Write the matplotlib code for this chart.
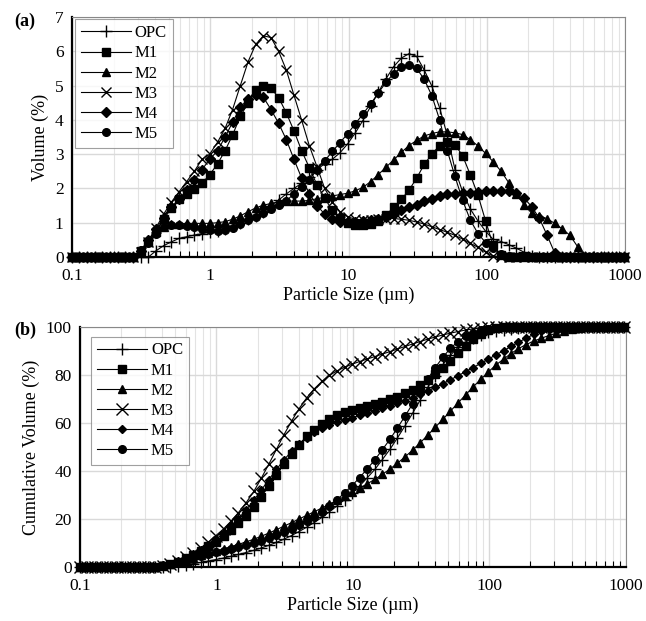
import numpy as np
import matplotlib
matplotlib.use("Agg")
import matplotlib.pyplot as plt
from matplotlib.ticker import LogLocator, FixedLocator, NullFormatter

plt.rcParams["font.family"] = ["Liberation Serif", "DejaVu Serif"]

# particle size classes (um)
sizes = [0.0995, 0.113, 0.128, 0.146, 0.166, 0.188, 0.214, 0.243, 0.276, 0.314,
         0.357, 0.405, 0.460, 0.523, 0.594, 0.675, 0.767, 0.872, 0.991, 1.13,
         1.28, 1.45, 1.65, 1.88, 2.13, 2.42, 2.75, 3.12, 3.55, 4.03,
         4.58, 5.21, 5.92, 6.72, 7.64, 8.68, 9.86, 11.2, 12.7, 14.5,
         16.4, 18.7, 21.2, 24.1, 27.4, 31.1, 35.3, 40.1, 45.6, 51.8,
         58.9, 66.9, 76.0, 86.4, 98.1, 111, 127, 144, 163, 186,
         211, 240, 272, 310, 352, 400, 454, 516, 586, 666,
         756, 859, 976]

# volume (%) per size class
opc = [0, 0, 0, 0, 0, 0, 0, 0, 0, 0,
       0.0, 0.18, 0.33, 0.44, 0.54, 0.59, 0.64, 0.68, 0.72, 0.77,
       0.83, 0.9, 1.0, 1.1, 1.2, 1.32, 1.5, 1.66, 1.84, 2.0,
       2.15, 2.33, 2.55, 2.72, 2.85, 3.04, 3.3, 3.62, 3.98, 4.4,
       4.8, 5.2, 5.55, 5.8, 5.93, 5.85, 5.45, 4.98, 4.35, 3.55,
       2.55, 1.9, 1.4, 1.05, 0.75, 0.52, 0.45, 0.36, 0.26, 0.14,
       0.03, 0, 0, 0, 0, 0, 0, 0, 0, 0,
       0, 0, 0]
m1 = [0, 0, 0, 0, 0, 0, 0, 0, 0, 0.18,
      0.45, 0.72, 1.1, 1.42, 1.7, 1.85, 1.98, 2.15, 2.4, 2.72,
      3.1, 3.56, 4.1, 4.5, 4.88, 5.0, 4.92, 4.65, 4.2, 3.68,
      3.1, 2.6, 2.1, 1.72, 1.36, 1.13, 0.99, 0.93, 0.93, 0.96,
      1.06, 1.22, 1.45, 1.68, 1.95, 2.3, 2.7, 3.0, 3.25, 3.36,
      3.28, 2.95, 2.4, 1.8, 1.05, 0.35, 0.05, 0, 0, 0,
      0, 0, 0, 0, 0, 0, 0, 0, 0, 0,
      0, 0, 0]
m2 = [0, 0, 0, 0, 0, 0, 0, 0, 0, 0.18,
      0.48, 0.72, 0.88, 0.95, 0.97, 0.98, 0.98, 0.98, 0.98, 1.0,
      1.03, 1.1, 1.2, 1.32, 1.43, 1.51, 1.56, 1.6, 1.63, 1.63,
      1.63, 1.65, 1.7, 1.74, 1.78, 1.82, 1.86, 1.93, 2.03, 2.2,
      2.4, 2.62, 2.83, 3.05, 3.25, 3.4, 3.53, 3.6, 3.65, 3.65,
      3.62, 3.57, 3.42, 3.24, 3.02, 2.78, 2.5, 2.17, 1.85, 1.52,
      1.28, 1.2, 1.12, 0.98, 0.82, 0.63, 0.3, 0.02, 0, 0,
      0, 0, 0]
m3 = [0, 0, 0, 0, 0, 0, 0, 0, 0, 0.15,
      0.45, 0.85, 1.25, 1.6, 1.9, 2.2, 2.5, 2.85, 3.0, 3.35,
      3.75, 4.3, 5.0, 5.7, 6.2, 6.45, 6.4, 6.0, 5.45, 4.72,
      3.99, 3.24, 2.63, 2.0, 1.6, 1.32, 1.17, 1.1, 1.08, 1.08,
      1.1, 1.12, 1.12, 1.1, 1.07, 1.02, 0.96, 0.88, 0.8, 0.72,
      0.63, 0.52, 0.4, 0.28, 0.14, 0.03, 0, 0, 0, 0,
      0, 0, 0, 0, 0, 0, 0, 0, 0, 0,
      0, 0, 0]
m4 = [0, 0, 0, 0, 0, 0, 0, 0, 0, 0.18,
      0.5, 0.82, 1.15, 1.45, 1.68, 1.95, 2.25, 2.55, 2.85, 3.1,
      3.5, 3.93, 4.36, 4.62, 4.72, 4.66, 4.3, 3.9, 3.42, 2.85,
      2.3, 1.85, 1.5, 1.25, 1.1, 1.03, 1.02, 1.03, 1.05, 1.08,
      1.12, 1.18, 1.27, 1.37, 1.45, 1.53, 1.62, 1.7, 1.78, 1.83,
      1.85, 1.86, 1.88, 1.9, 1.92, 1.93, 1.93, 1.92, 1.86, 1.72,
      1.47, 1.13, 0.65, 0.12, 0, 0, 0, 0, 0, 0,
      0, 0, 0]
m5 = [0, 0, 0, 0, 0, 0, 0, 0, 0, 0.2,
      0.42, 0.67, 0.86, 0.92, 0.93, 0.9, 0.86, 0.81, 0.78, 0.77,
      0.8, 0.85, 0.96, 1.08, 1.16, 1.27, 1.39, 1.52, 1.63, 1.85,
      2.05, 2.25, 2.55, 2.8, 3.08, 3.33, 3.6, 3.88, 4.17, 4.47,
      4.78, 5.1, 5.35, 5.53, 5.6, 5.5, 5.18, 4.7, 4.0, 3.1,
      2.35, 1.65, 1.08, 0.68, 0.42, 0.25, 0.1, 0.03, 0, 0,
      0, 0, 0, 0, 0, 0, 0, 0, 0, 0,
      0, 0, 0]

labels = ["OPC", "M1", "M2", "M3", "M4", "M5"]
series = [opc, m1, m2, m3, m4, m5]
markers = ["+", "s", "^", "x", "D", "o"]
msizes = [8, 5.5, 5.5, 7, 5, 5.5]
msizes_b = [8, 5.5, 5.5, 8, 4, 5.5]


def cumulative(v):
    # cumulative undersize from the volume fractions
    v = np.asarray(v, dtype=float)
    c = np.concatenate([[0.0], np.cumsum(v)[:-1]])
    return c / v.sum() * 100


def style_axis(ax, ymax, ystep, ylabel):
    ax.set_xscale("log")
    ax.set_xlim(0.1, 1000)
    ax.set_ylim(0, ymax)
    ax.set_yticks(np.arange(0, ymax + ystep / 2, ystep))
    ax.xaxis.set_major_locator(FixedLocator([0.1, 1, 10, 100, 1000]))
    ax.set_xticklabels(["0.1", "1", "10", "100", "1000"])
    ax.xaxis.set_minor_locator(LogLocator(base=10, subs=np.arange(2, 10)))
    ax.xaxis.set_minor_formatter(NullFormatter())
    ax.grid(True, which="major", color="#d9d9d9", lw=1.0, zorder=0)
    ax.grid(True, which="minor", axis="x", color="#e3e3e3", lw=0.8, zorder=0)
    ax.set_axisbelow(True)
    ax.tick_params(axis="x", which="major", direction="in", length=0, labelsize=12.5, pad=8)
    ax.tick_params(axis="x", which="minor", direction="in", length=4, width=0.8)
    ax.tick_params(axis="y", length=0, labelsize=12.5, pad=6)
    for s in ["left", "bottom"]:
        ax.spines[s].set_linewidth(1.6)
        ax.spines[s].set_color("black")
    for s in ["top", "right"]:
        ax.spines[s].set_linewidth(0.8)
        ax.spines[s].set_color("#888888")
    ax.set_xlabel("Particle Size (\u00b5m)", fontsize=13, labelpad=2)
    ax.set_ylabel(ylabel, fontsize=13, labelpad=4)


fig = plt.figure(figsize=(6.46, 6.21), dpi=100)
ax1 = fig.add_axes([0.1115, 0.5862, 0.856, 0.3865])
ax2 = fig.add_axes([0.1238, 0.087, 0.845, 0.3865])

for vals, lab, mk, ms in zip(series, labels, markers, msizes):
    ax1.plot(sizes, vals, color="black", lw=0.8, marker=mk, ms=ms,
             mew=1.0, mfc="black", mec="black", label=lab, clip_on=False, zorder=3)
style_axis(ax1, 7, 1, "Volume (%)")

for vals, lab, mk, ms in zip(series, labels, markers, msizes_b):
    ax2.plot(sizes, cumulative(vals), color="black", lw=0.8, marker=mk, ms=ms,
             mew=1.0, mfc="black", mec="black", label=lab, clip_on=False, zorder=3)
style_axis(ax2, 100, 20, "Cumulative Volume (%)")

for ax, anchor in ((ax1, (0.005, 0.99)), (ax2, (0.02, 0.96))):
    leg = ax.legend(loc="upper left", bbox_to_anchor=anchor, fontsize=12,
                    frameon=True, fancybox=False, edgecolor="#888888",
                    handlelength=3.0, borderpad=0.35, labelspacing=0.25,
                    handletextpad=0.25, borderaxespad=0.0)
    leg.get_frame().set_linewidth(0.8)

fig.text(0.022, 0.965, "(a)", fontsize=13, fontweight="bold", va="center")
fig.text(0.022, 0.468, "(b)", fontsize=13, fontweight="bold", va="center")

fig.savefig("out.png", dpi=100)
